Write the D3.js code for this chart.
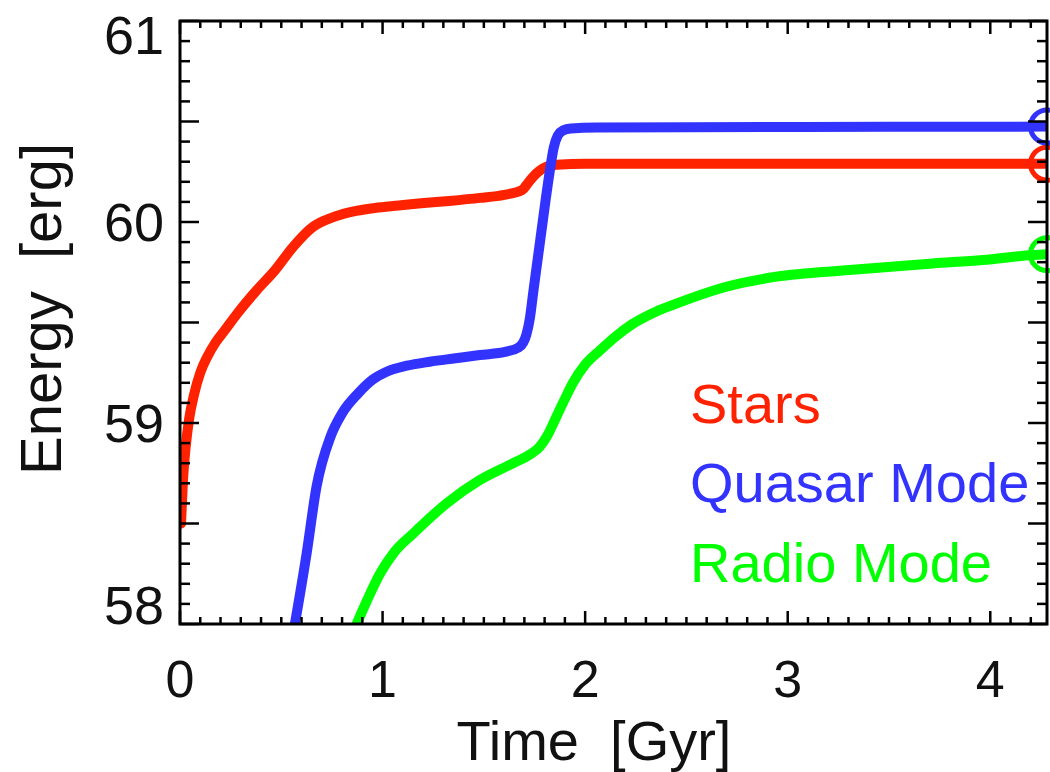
<!DOCTYPE html>
<html>
<head>
<meta charset="utf-8">
<script src="https://cdn.jsdelivr.net/npm/d3@7"></script>
<style>
  html, body { margin: 0; padding: 0; background: #fff; }
  svg { display: block; }
  text { font-family: "Liberation Sans", Arial, Helvetica, sans-serif; }
</style>
</head>
<body>
<svg id="chart" width="1050" height="772"></svg>
<script>
// ---------------- data ----------------
const starsT = [0.005, 0.015, 0.028, 0.045, 0.069, 0.10, 0.135, 0.175, 0.22, 0.283, 0.378, 0.469, 0.559, 0.658, 0.72, 0.789, 0.87, 0.962, 1.08, 1.19, 1.33, 1.48, 1.6, 1.69, 1.715, 1.743, 1.775, 1.81, 1.86, 2.0, 2.5, 3.0, 3.5, 4.0, 4.28];
const starsE = [58.50, 58.72, 58.88, 59.02, 59.14, 59.25, 59.33, 59.40, 59.46, 59.545, 59.66, 59.76, 59.877, 59.977, 60.01, 60.035, 60.055, 60.07, 60.082, 60.093, 60.105, 60.12, 60.135, 60.16, 60.19, 60.225, 60.255, 60.275, 60.285, 60.29, 60.29, 60.29, 60.29, 60.29, 60.29];

const quasarT = [0.567, 0.625, 0.674, 0.743, 0.80, 0.88, 0.95, 1.02, 1.12, 1.233, 1.36, 1.48, 1.61, 1.67, 1.694, 1.71, 1.727, 1.745, 1.765, 1.785, 1.805, 1.825, 1.845, 1.865, 1.89, 1.93, 2.056, 2.5, 3.0, 3.5, 4.0, 4.28];
const quasarE = [58.0, 58.35, 58.683, 58.932, 59.048, 59.148, 59.215, 59.255, 59.285, 59.305, 59.322, 59.338, 59.355, 59.375, 59.40, 59.44, 59.52, 59.66, 59.81, 59.96, 60.11, 60.25, 60.37, 60.43, 60.455, 60.465, 60.47, 60.472, 60.473, 60.474, 60.474, 60.475];

const radioT = [0.872, 0.92, 0.987, 1.06, 1.151, 1.316, 1.48, 1.644, 1.73, 1.776, 1.815, 1.858, 1.90, 1.94, 2.0, 2.072, 2.15, 2.23, 2.33, 2.44, 2.697, 2.944, 3.305, 3.716, 3.963, 4.21, 4.28];
const radioE = [58.0, 58.11, 58.25, 58.36, 58.45, 58.60, 58.716, 58.80, 58.845, 58.882, 58.94, 59.031, 59.12, 59.20, 59.29, 59.36, 59.43, 59.49, 59.545, 59.59, 59.678, 59.728, 59.761, 59.794, 59.811, 59.836, 59.84];

const seriesNames = ["Stars", "Quasar Mode", "Radio Mode"];
const seriesColors = ["#ff2200", "#3333ff", "#00ff00"];

const xMajorTicks = [0, 1, 2, 3, 4];
const xTickLabels = ["0", "1", "2", "3", "4"];
const yMajorTicks = [58, 59, 60, 61];
const yTickLabels = ["58", "59", "60", "61"];
const xTitle = "Time  [Gyr]";
const yTitle = "Energy  [erg]";

// ---------------- layout ----------------
const svg = d3.select("#chart");
const plot = { left: 180, right: 1047, top: 21, bottom: 624 };
const x = d3.scaleLinear().domain([0, 4.28]).range([plot.left, plot.right]);
const y = d3.scaleLinear().domain([58, 61]).range([plot.bottom, plot.top]);

svg.append("defs").append("clipPath").attr("id", "clip")
  .append("rect")
  .attr("x", plot.left).attr("y", plot.top)
  .attr("width", plot.right - plot.left).attr("height", plot.bottom - plot.top);

// ---------------- lines ----------------
const series = [
  { t: starsT, e: starsE },
  { t: quasarT, e: quasarE },
  { t: radioT, e: radioE }
];
const line = d3.line()
  .x(d => x(d[0]))
  .y(d => y(d[1]))
  .curve(d3.curveMonotoneX);

const lines = svg.append("g").attr("clip-path", "url(#clip)");
series.forEach((s, i) => {
  const pts = s.t.map((t, j) => [t, s.e[j]]);
  lines.append("path")
    .datum(pts)
    .attr("d", line)
    .attr("fill", "none")
    .attr("stroke", seriesColors[i])
    .attr("stroke-width", 10)
    .attr("stroke-linejoin", "round")
    .attr("stroke-linecap", "round");
});

// end circles
series.forEach((s, i) => {
  const n = s.t.length - 1;
  svg.append("circle")
    .attr("cx", x(s.t[n]))
    .attr("cy", y(s.e[n]))
    .attr("r", 16.5)
    .attr("fill", "none")
    .attr("stroke", seriesColors[i])
    .attr("stroke-width", 5);
});

// ---------------- axes frame & ticks ----------------
const axes = svg.append("g").attr("stroke", "#000");
axes.append("rect")
  .attr("x", plot.left).attr("y", plot.top)
  .attr("width", plot.right - plot.left).attr("height", plot.bottom - plot.top)
  .attr("fill", "none").attr("stroke-width", 3);

const xMinor = d3.range(0, 43).map(i => i / 10).filter(v => v <= 4.28);
const yMinor = d3.range(0, 31).map(i => 58 + i / 10);
const isMajor = v => Math.abs(v - Math.round(v)) < 1e-6;

// bottom & top
xMinor.forEach(v => {
  const len = isMajor(v) ? 13 : 7;
  axes.append("line").attr("x1", x(v)).attr("x2", x(v))
    .attr("y1", plot.bottom).attr("y2", plot.bottom - len).attr("stroke-width", 2.5);
  axes.append("line").attr("x1", x(v)).attr("x2", x(v))
    .attr("y1", plot.top).attr("y2", plot.top + len).attr("stroke-width", 2.5);
});
// left & right
yMinor.forEach(v => {
  const isHalf = Math.abs(v * 2 - Math.round(v * 2)) < 1e-6;
  const len = isHalf ? 19 : 10;
  axes.append("line").attr("y1", y(v)).attr("y2", y(v))
    .attr("x1", plot.left).attr("x2", plot.left + len).attr("stroke-width", 2.5);
  axes.append("line").attr("y1", y(v)).attr("y2", y(v))
    .attr("x1", plot.right).attr("x2", plot.right - len).attr("stroke-width", 2.5);
});

// ---------------- tick labels ----------------
svg.append("g").selectAll("text")
  .data(xMajorTicks)
  .join("text")
  .attr("x", d => x(d))
  .attr("y", 697)
  .attr("text-anchor", "middle")
  .attr("font-size", 52)
  .attr("fill", "#111")
  .text((d, i) => xTickLabels[i]);

svg.append("g").selectAll("text")
  .data(yMajorTicks)
  .join("text")
  .attr("x", 164)
  .attr("y", d => Math.min(plot.bottom, Math.max(54, y(d) + 19)))
  .attr("text-anchor", "end")
  .attr("font-size", 54)
  .attr("fill", "#111")
  .text((d, i) => yTickLabels[i]);

// ---------------- axis titles ----------------
svg.append("text")
  .attr("x", 594).attr("y", 760)
  .attr("text-anchor", "middle")
  .attr("font-size", 56)
  .attr("fill", "#111")
  .style("white-space", "pre")
  .text(xTitle);

svg.append("text")
  .attr("transform", "translate(61,309) rotate(-90)")
  .attr("text-anchor", "middle")
  .attr("font-size", 58)
  .attr("fill", "#111")
  .style("white-space", "pre")
  .text(yTitle);

// ---------------- legend ----------------
const legendBaselines = [423, 502, 582];
svg.append("g").selectAll("text")
  .data(seriesNames)
  .join("text")
  .attr("x", 690)
  .attr("y", (d, i) => legendBaselines[i])
  .attr("font-size", 56)
  .attr("fill", (d, i) => seriesColors[i])
  .text(d => d);
</script>
</body>
</html>
